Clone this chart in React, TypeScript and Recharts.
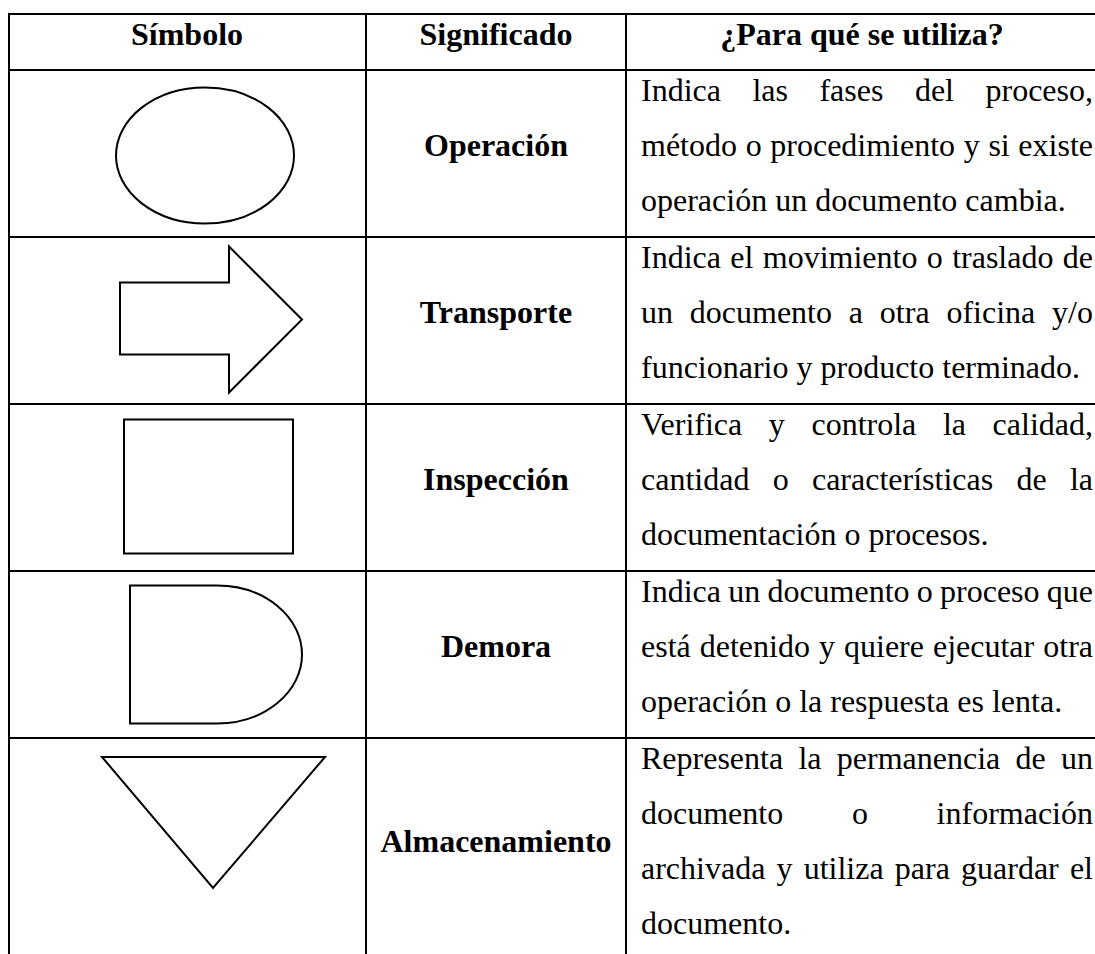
import React from 'react';
import { ComposedChart, Scatter, XAxis, YAxis, ReferenceLine } from 'recharts';

// Table content
const headers = ['Símbolo', 'Significado', '¿Para qué se utiliza?'];
const symbols = ['ellipse', 'arrow', 'square', 'delay', 'triangle'];
const meanings = ['Operación', 'Transporte', 'Inspección', 'Demora', 'Almacenamiento'];
const descriptions: string[][] = [
  ['Indica las fases del proceso,', 'método o procedimiento y si existe', 'operación un documento cambia.'],
  ['Indica el movimiento o traslado de', 'un documento a otra oficina y/o', 'funcionario y producto terminado.'],
  ['Verifica y controla la calidad,', 'cantidad o características de la', 'documentación o procesos.'],
  ['Indica un documento o proceso que', 'está detenido y quiere ejecutar otra', 'operación o la respuesta es lenta.'],
  ['Representa la permanencia de un', 'documento o información', 'archivada y utiliza para guardar el', 'documento.'],
];

// Layout (page pixels, the axes map 1:1)
const W = 1095;
const H = 954;
const colEdges = [9, 366, 626];
const rowEdges = [14, 70, 237, 404, 571, 738, 962];
const headerX = [187, 496, 862];
const symbolX = 211;
const textLeft = 641;
const textRight = 1093;
const lineGap = 55;
const FONT = "'Liberation Serif', 'Times New Roman', serif";
const STROKE = '#000';

let ctx: CanvasRenderingContext2D | null = null;
function measure(s: string, bold = false) {
  if (!ctx) ctx = document.createElement('canvas').getContext('2d');
  if (!ctx) return s.length * 14;
  ctx.font = `${bold ? 'bold ' : ''}32px ${FONT}`;
  return ctx.measureText(s).width;
}

const rowMid = (i: number) => (rowEdges[i + 1] + rowEdges[i + 2]) / 2;

const headerData = headers.map((h, i) => ({ x: headerX[i], y: 45, label: h }));
const meaningData = meanings.map((m, i) => ({ x: 496, y: (i === 4 ? 852 : rowMid(i) + 2), label: m }));
const symbolData = symbols.map((s, i) => ({ x: symbolX, y: rowMid(i), kind: s }));
const lineData = descriptions.flatMap((lines, i) =>
  lines.map((t, j) => ({
    x: textLeft,
    y: rowEdges[i + 1] + 31 + j * lineGap,
    label: t,
    justify: j < lines.length - 1,
  }))
);

const BoldLabel = (props: any) => {
  const { cx, cy, payload } = props;
  return (
    <text x={cx} y={cy} textAnchor="middle" fontFamily={FONT} fontSize={32} fontWeight="bold" fill="#000">
      {payload.label}
    </text>
  );
};

const BodyLine = (props: any) => {
  const { cx, cy, payload } = props;
  if (!payload.justify) {
    return (
      <text x={cx} y={cy} fontFamily={FONT} fontSize={32} fill="#000">
        {payload.label}
      </text>
    );
  }
  // justified line: spread the words over the cell width
  const words: string[] = payload.label.split(' ');
  const widths = words.map((w) => measure(w));
  const total = widths.reduce((a, b) => a + b, 0);
  const gap = (textRight - cx - total) / (words.length - 1);
  let pos = cx;
  return (
    <text y={cy} fontFamily={FONT} fontSize={32} fill="#000">
      {words.map((w, k) => {
        const x = pos;
        pos += widths[k] + gap;
        return (
          <tspan key={k} x={x}>
            {w}
          </tspan>
        );
      })}
    </text>
  );
};

const SymbolShape = (props: any) => {
  const { cx, cy, payload } = props;
  const common = { fill: 'none', stroke: STROKE, strokeWidth: 2 };
  switch (payload.kind) {
    case 'ellipse':
      return <ellipse cx={cx - 6} cy={cy + 2} rx={89} ry={68} {...common} />;
    case 'arrow':
      return (
        <path
          d={`M${cx - 91},${cy - 38} H${cx + 18} V${cy - 74} L${cx + 91},${cy - 1} L${cx + 18},${cy + 72} V${cy + 34} H${cx - 91} Z`}
          {...common}
        />
      );
    case 'square':
      return <rect x={cx - 87} y={cy - 68} width={169} height={134} {...common} />;
    case 'delay':
      return (
        <path
          d={`M${cx - 81},${cy - 69} H${cx + 6} A85 69 0 0 1 ${cx + 6},${cy + 69} H${cx - 81} Z`}
          {...common}
        />
      );
    case 'triangle':
      return <path d={`M${cx - 109},${cy - 93} H${cx + 114} L${cx + 2},${cy + 38} Z`} {...common} />;
    default:
      return null;
  }
};

export default function App() {
  return (
    <div style={{ position: 'absolute', left: 0, top: 0, background: '#fff' }}>
      <ComposedChart width={W} height={H} margin={{ top: 0, right: 0, bottom: 0, left: 0 }}>
        <XAxis type="number" dataKey="x" domain={[0, W]} hide allowDataOverflow />
        <YAxis type="number" dataKey="y" domain={[0, H]} reversed hide allowDataOverflow />

        {/* horizontal rules */}
        {rowEdges.slice(0, -1).map((y, i) => (
          <ReferenceLine
            key={`h-${i}`}
            segment={[{ x: colEdges[0] - 1, y }, { x: W, y }]}
            stroke={STROKE}
            strokeWidth={2}
            ifOverflow="visible"
          />
        ))}
        {/* vertical rules */}
        {colEdges.map((x, i) => (
          <ReferenceLine
            key={`v-${i}`}
            segment={[{ x, y: rowEdges[0] }, { x, y: H }]}
            stroke={STROKE}
            strokeWidth={2}
            ifOverflow="visible"
          />
        ))}

        <Scatter data={headerData} shape={BoldLabel} isAnimationActive={false} />
        <Scatter data={meaningData} shape={BoldLabel} isAnimationActive={false} />
        <Scatter data={symbolData} shape={SymbolShape} isAnimationActive={false} />
        <Scatter data={lineData} shape={BodyLine} isAnimationActive={false} />
      </ComposedChart>
    </div>
  );
}
